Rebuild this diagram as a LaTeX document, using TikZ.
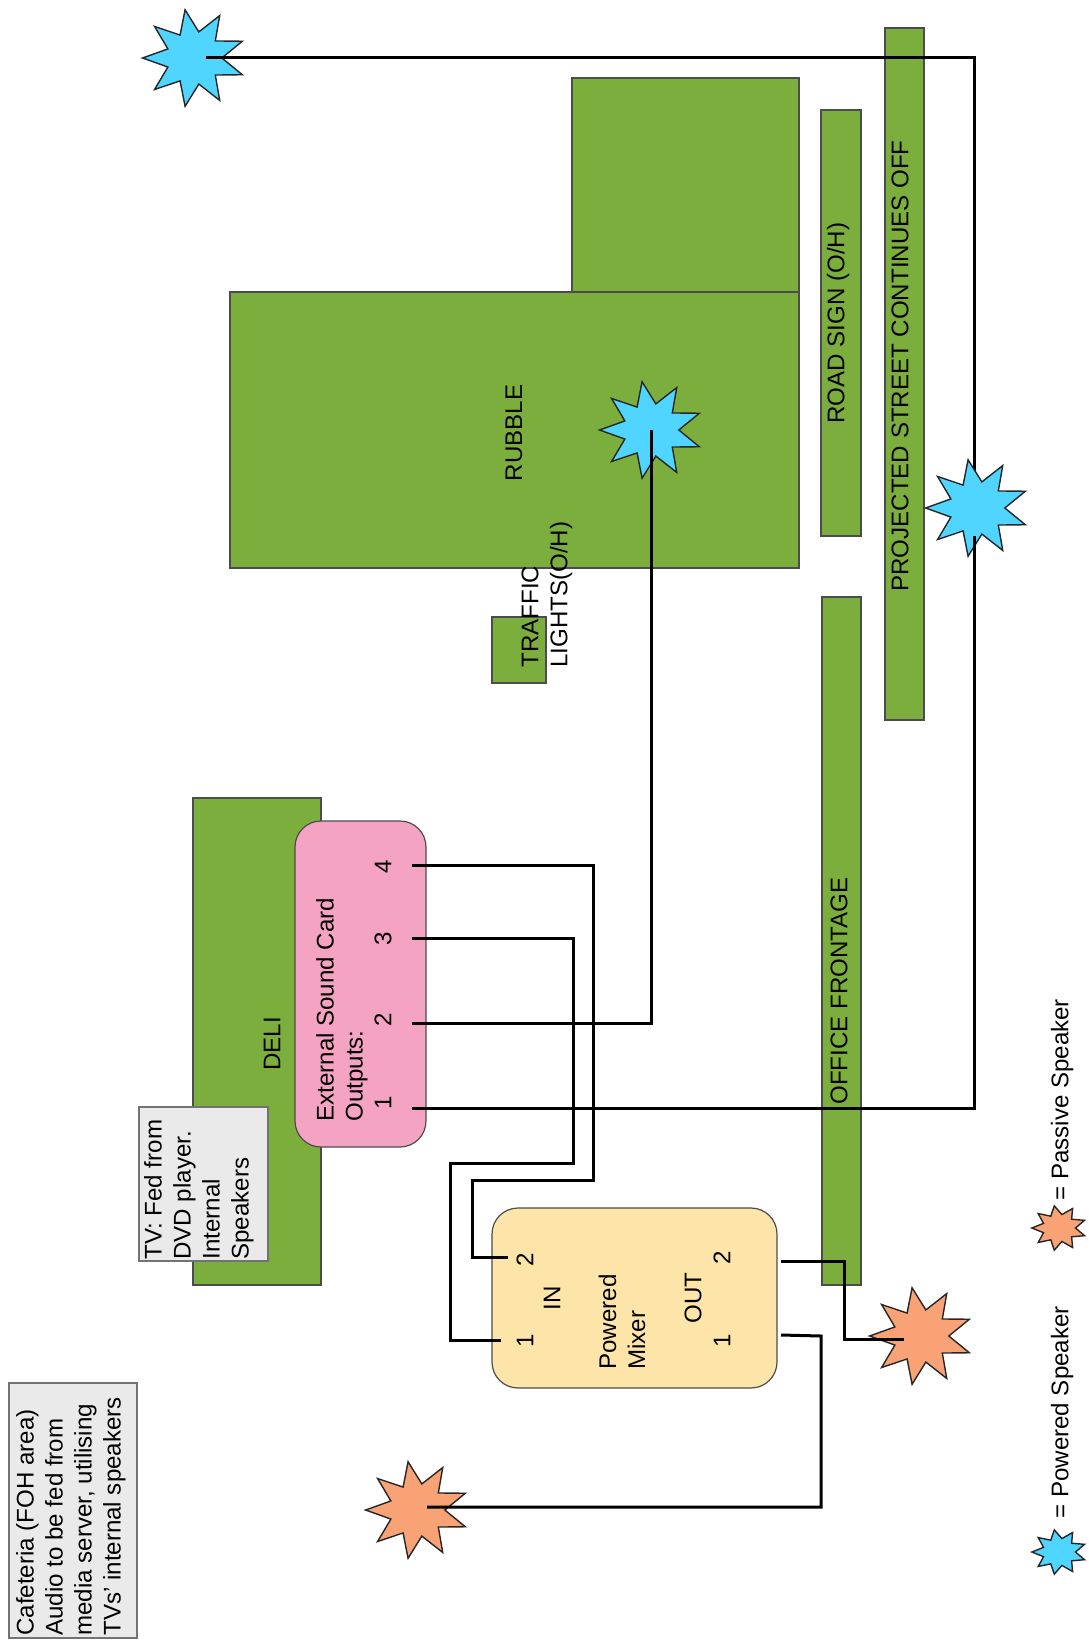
\documentclass[tikz,border=0pt]{standalone}
\usepackage{fontspec}
\setmainfont{Liberation Sans}
\usetikzlibrary{positioning,shapes.geometric,fit}

\begin{document}
\begin{tikzpicture}[
  x=0.5pt, y=-0.5pt,
  every node/.style={font=\fontsize{12.05}{14.5}\selectfont},
  block/.style ={draw=black!70, line width=0.6pt, fill=areagreen, inner sep=0pt},
  unit/.style  ={draw=black!70, line width=0.6pt, rounded corners=13pt, inner sep=0pt},
  noteb/.style ={draw=black!55, line width=0.8pt, fill=notegrey, inner sep=0pt},
  lab/.style   ={rotate=90, inner sep=0pt},
  labl/.style  ={rotate=90, inner sep=0pt, anchor=west, align=left},
  spk/.style   ={star, star points=9, star point ratio=1.85, shape border rotate=90,
                 draw=black!85, line width=0.7pt, minimum size=49pt, inner sep=0pt,
                 xscale=1.05, transform shape},
  minispk/.style={spk, star point ratio=1.65, minimum size=22.5pt, xscale=1.15},
  wire/.style  ={draw=black, line width=1.5pt}]

\definecolor{areagreen}{HTML}{7BAE3C}
\definecolor{notegrey}{HTML}{EAEAEA}
\definecolor{powblue}{HTML}{4FD5FF}
\definecolor{pasorange}{HTML}{F9A276}
\definecolor{cardpink}{HTML}{F5A3C2}
\definecolor{mixyellow}{HTML}{FDE4A8}

\useasboundingbox (0,0) rectangle (1088,1641);

%% Street and buildings
\coordinate (tlA) at (572,78);    \coordinate (tlB) at (799,292);
\node[block, fit=(tlA)(tlB)] (yard) {};
\coordinate (ruA) at (230,292);   \coordinate (ruB) at (799,568);
\node[block, fit=(ruA)(ruB)] (rubble) {};
\coordinate (rdA) at (821,110);   \coordinate (rdB) at (861,536);
\node[block, fit=(rdA)(rdB)] (road) {};
\coordinate (ofA) at (822,597);   \coordinate (ofB) at (861,1285);
\node[block, fit=(ofA)(ofB)] (office) {};
\coordinate (prA) at (885,28);    \coordinate (prB) at (924,720);
\node[block, fit=(prA)(prB)] (street) {};
\coordinate (trA) at (492,617);   \coordinate (trB) at (546,683);
\node[block, fit=(trA)(trB)] (traffic) {};
\coordinate (deA) at (193,798);   \coordinate (deB) at (321,1285);
\node[block, fit=(deA)(deB)] (deli) {};

%% Notes
\coordinate (tvA) at (139,1107);  \coordinate (tvB) at (268,1261);
\node[noteb, fit=(tvA)(tvB)] (tv) {};
\coordinate (caA) at (9,1383);    \coordinate (caB) at (137,1638);
\node[noteb, fit=(caA)(caB)] (cafe) {};

%% Equipment
\coordinate (scA) at (295,821);   \coordinate (scB) at (426,1147);
\node[unit, fill=cardpink, fit=(scA)(scB)] (card) {};
\coordinate (mxA) at (492,1208);  \coordinate (mxB) at (777,1388);
\node[unit, fill=mixyellow, fit=(mxA)(mxB)] (mixer) {};

%% Speakers
\node[spk, fill=powblue]   (spkA) at (194,58)   {};
\node[spk, fill=powblue]   (spkB) at (651,430)  {};
\node[spk, fill=pasorange] (spkD) at (921,1336) {};
\node[spk, fill=pasorange] (spkE) at (417,1510) {};
\node[minispk, fill=powblue]   (keyA) at (1059,1552) {};
\node[minispk, fill=pasorange] (keyB) at (1059,1228) {};

%% Output 1 runs to the street speaker, which sits on top of its upper leg
\coordinate (spkCc) at (974,508);
\coordinate (topT)  at (spkCc |- spkA);
\draw[wire] ([xshift=6pt]spkA.center) -- (topT) -- (spkCc);
\node[spk, fill=powblue] (spkC) at ([xshift=1.5pt]spkCc) {};

\coordinate (o1) at (412,1108);
\coordinate (o2) at (412,1023);
\coordinate (o3) at (412,938);
\coordinate (o4) at (412,865);
\coordinate (i1) at (501,1340);
\coordinate (i2) at (508,1257);
\coordinate (m1) at (781,1335);
\coordinate (m2) at (781,1261);

\draw[wire] (o1) -- (974,1108) -- ([yshift=-14pt]spkCc);
\draw[wire] (o2) -| (spkB.center);
\draw[wire] (o3) -- (573,938) -- (573,1163) -- (450,1163) -- (450,1340) -- (i1);
\draw[wire] (o4) -- (593,865) -- (593,1180) -- (472,1180) -- (472,1257) -- (i2);
\draw[wire] (m2) -- (844,1261) -- (844,1339) -- (904,1339);
\draw[wire] (m1) -- (821,1336) -- (821,1507) -- ([xshift=5pt]spkE.center |- 0,1507);

%% Labels
\node[lab] (lRubble) at (514,433)  {RUBBLE};
\node[lab] (lRoad)   at (838,323)  {ROAD SIGN (O/H)};
\node[lab] (lStreet) at (900,366)  {PROJECTED STREET CONTINUES OFF};
\node[lab] (lOffice) at (839,991)  {OFFICE FRONTAGE};
\node[lab] (lDeli)   at (272,1044) {DELI};
\node[labl] (lTraffic) at (547,668) {TRAFFIC\\LIGHTS(O/H)};
\node[labl] (lTv)      at (199,1260) {TV: Fed from\\DVD player.\\Internal\\Speakers};
\node[labl] (lCafe)    at (71,1636)  {Cafeteria (FOH area)\\Audio to be fed from\\media server, utilising\\TVs' internal speakers};
\node[labl] (lCard)    at (342,1122) {External Sound Card\\Outputs:};
\node[lab] (nO1) at (383,1103) {1};
\node[lab] (nO2) at (383,1020) {2};
\node[lab] (nO3) at (383,939)  {3};
\node[lab] (nO4) at (383,867)  {4};
\node[lab] (nI2) at (525,1260) {2};
\node[lab] (nI1) at (525,1341) {1};
\node[lab] (lIn) at (552,1298) {IN};
\node[labl] (lMixer) at (622,1370) {Powered\\Mixer};
\node[lab] (lOut) at (693,1298) {OUT};
\node[lab] (nM2) at (722,1258) {2};
\node[lab] (nM1) at (722,1341) {1};
\node[labl] (lKeyA) at (1062,1519) {= Powered Speaker};
\node[labl] (lKeyB) at (1062,1201) {= Passive Speaker};
\end{tikzpicture}
\end{document}
